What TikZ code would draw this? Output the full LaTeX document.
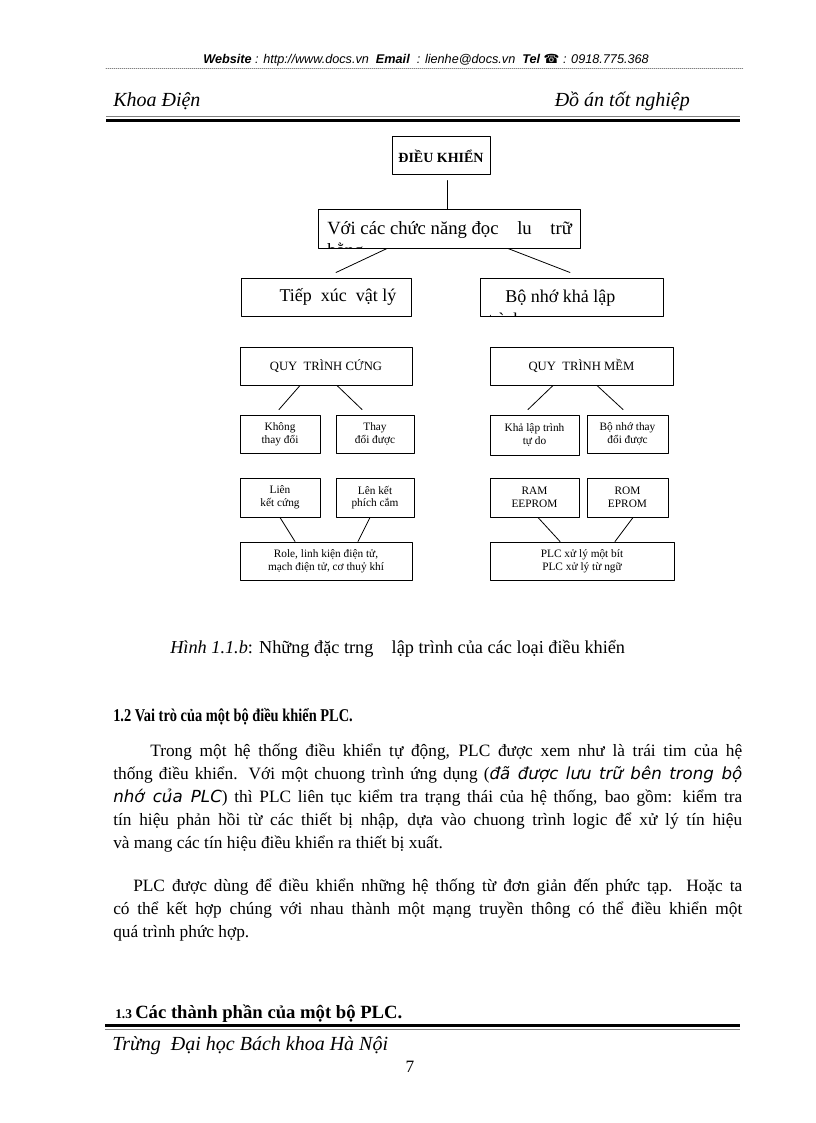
\documentclass[tikz,border=0pt]{standalone}
\usepackage{fontspec}
\setmainfont{Liberation Serif}
\setsansfont{Liberation Sans}
\newfontfamily\symfont{DejaVu Sans}
\newfontfamily\obfont{DejaVu Sans}
\usetikzlibrary{calc}
\newcommand{\jline}[1]{\makebox[471.75pt][s]{#1}}

\begin{document}
\begin{tikzpicture}[x=0.75pt, y=-0.75pt, line cap=round, line join=round,
    box/.style={draw, line width=0.75pt, inner sep=1pt, align=center, font=\fontsize{8.5}{9.5}\selectfont, minimum height=28.5pt},
    link/.style={line width=0.6pt},
    rule/.style={line width=2.25pt, line cap=butt},
    thinrule/.style={gray, line width=0.5pt, line cap=butt},
    para/.style={anchor=north west, inner sep=0pt, align=left, font=\fontsize{13}{17.25}\selectfont}]
  \fill[white] (0,0) rectangle (816,1123);

  % page header
  \node[font=\sffamily\itshape\fontsize{9.5}{11}\selectfont] (web) at (426,60) {\textbf{Website} : http://www.docs.vn\ \ \textbf{Email}\ \ : lienhe@docs.vn\ \ \textbf{Tel} {\symfont\upshape ☎} : 0918.775.368};
  \draw[gray, densely dotted, line width=0.5pt] (106,68) -- (743,68);
  \node[anchor=base west, inner sep=0pt, font=\itshape\fontsize{15}{18}\selectfont] (khoa) at (113,107) {Khoa Điện};
  \node[anchor=base east, inner sep=0pt, font=\itshape\fontsize{15}{18}\selectfont] (doan) at (690,107) {Đồ án tốt nghiệp};
  \draw[thinrule] (106,116) -- (740,116);
  \draw[rule] (106,120.5) -- (740,120.5);

  % diagram
  \node[box, minimum width=73.5pt, font=\bfseries\fontsize{10.5}{12}\selectfont] (dk) at (441,156) {ĐIỀU KHIỂN};
  \node[box, minimum width=196.5pt] (cn) at (449,229) {};
  \begin{scope}
    \clip (cn.south west) rectangle (cn.north east);
    \node[anchor=base west, inner sep=0pt, font=\fontsize{14}{16}\selectfont] (cn1) at (327,234) {Với các chức năng đọc\quad lu\quad trữ};
    \node[anchor=base west, inner sep=0pt, font=\fontsize{14}{16}\selectfont] (cn2) at (327,256) {bằng};
  \end{scope}
  \node[box, minimum width=127.5pt, font=\fontsize{13.5}{16}\selectfont] (tx) at (326,297) {\hspace*{18pt}Tiếp\ \ xúc\ \ vật lý};
  \node[box, minimum width=137.25pt] (bn) at (571.5,297) {};
  \begin{scope}
    \clip (bn.south west) rectangle (bn.north east);
    \node[anchor=base west, inner sep=0pt, font=\fontsize{13.5}{16}\selectfont] (bn1) at (505,302) {Bộ nhớ khả lập};
    \node[anchor=base west, inner sep=0pt, font=\fontsize{13.5}{16}\selectfont] (bn2) at (488,325) {trình};
  \end{scope}
  \node[box, minimum width=129pt, font=\fontsize{9.5}{11}\selectfont] (qc) at (326,366) {QUY\ \ TRÌNH CỨNG};
  \node[box, minimum width=137.25pt, font=\fontsize{9.5}{11}\selectfont] (qm) at (581.5,366) {QUY\ \ TRÌNH MỀM};
  \node[box, minimum width=60pt] (kt) at (280,434) {Không\\thay đổi};
  \node[box, minimum width=58.5pt] (td) at (375,434) {Thay\\đổi được};
  \node[box, minimum width=66.75pt, minimum height=30pt] (kl) at (534.5,435) {Khả lập trình\\tự do};
  \node[box, minimum width=60.75pt] (bt) at (627.5,434) {Bộ nhớ thay\\đổi được};
  \node[box, minimum width=60pt, minimum height=29.25pt] (lc) at (280,497.5) {Liên\\kết cứng};
  \node[box, minimum width=58.5pt, minimum height=29.25pt] (lp) at (375,497.5) {Lên kết\\phích cắm};
  \node[box, minimum width=66.75pt, minimum height=29.25pt] (ram) at (534.5,497.5) {RAM\\EEPROM};
  \node[box, minimum width=60.75pt, minimum height=29.25pt] (rom) at (627.5,497.5) {ROM\\EPROM};
  \node[box, minimum width=129pt] (rl) at (326,561) {Role, linh kiện điện tử,\\mạch điện tử, cơ thuỷ khí};
  \node[box, minimum width=138pt] (plc) at (582,561) {PLC xử lý một bít\\PLC xử lý từ ngữ};

  \draw[link] ($(dk.south)+(6,5)$) -- ($(cn.north)+(-2,0)$);
  \foreach \a/\b/\d in {tx/qc/1, bn/qm/5.5, kt/lc/-1, td/lp/-1, kl/ram/3.5, bt/rom/-2.5}
    \draw[link] ($(\a.south)+(\d,0)$) -- ($(\a.south)+(\d,0)$ |- \b.north);
  \foreach \a/\u/\b/\v/\w in {cn/-62/tx/10/-5, cn/59/bn/-1.5/-5, qc/-26/kt/-1/-5, qc/11/td/-13/-5,
      qm/-28.5/kl/-6.5/-5, qm/15.5/bt/-4.5/-5, lc/0/rl/-31/0, lp/-5/rl/32/0, ram/3.5/plc/-22/0, rom/5.5/plc/33/0}
    \draw[link] ($(\a.south)+(\u,0)$) -- ($(\b.north)+(\v,\w)$);

  % caption and text
  \node[anchor=base west, inner sep=0pt, font=\fontsize{13.7}{16}\selectfont] (cap) at (170,653) {\textit{Hình 1.1.b}: Những đặc trng\quad lập trình của các loại điều khiển};
  \node[anchor=base west, inner sep=0pt, font=\bfseries\fontsize{13.5}{16}\selectfont] (h12) at (113,721) {\scalebox{0.8}[1]{1.2 Vai trò của một bộ điều khiển PLC.}};
  \node[para] (p1) at (113,744) {\jline{\hspace*{27.75pt}Trong một hệ thống điều khiển tự động, PLC được xem như là trái tim của hệ}\\
    \jline{thống điều khiển. Với một chuong trình ứng dụng ({\obfont\itshape\fontsize{12.5}{17.25}\selectfont đã được lưu trữ bên trong bộ}}\\
    \jline{{\obfont\itshape\fontsize{12.5}{17.25}\selectfont nhớ của PLC}) thì PLC liên tục kiểm tra trạng thái của hệ thống, bao gồm: kiểm tra}\\
    \jline{tín hiệu phản hồi từ các thiết bị nhập, dựa vào chuong trình logic để xử lý tín hiệu}\\
    và mang các tín hiệu điều khiển ra thiết bị xuất.};
  \node[para] (p2) at (113,879) {\jline{\hspace*{15pt}PLC được dùng để điều khiển những hệ thống từ đơn giản đến phức tạp. Hoặc ta}\\
    \jline{có thể kết hợp chúng với nhau thành một mạng truyền thông có thể điều khiển một}\\
    quá trình phức hợp.};

  % page footer
  \node[anchor=base west, inner sep=0pt, font=\bfseries] (h13) at (115,1018) {{\fontsize{10}{12}\selectfont 1.3} {\fontsize{14}{16}\selectfont\underline{Các thành phần của một bộ PLC.}}};
  \draw[rule] (105,1025.5) -- (740,1025.5);
  \draw[thinrule] (105,1029.5) -- (740,1029.5);
  \node[anchor=base west, inner sep=0pt, font=\itshape\fontsize{15}{18}\selectfont] (truong) at (112,1050) {Trừng\ \ Đại học Bách khoa Hà Nội};
  \node[anchor=base, inner sep=0pt, font=\fontsize{13}{16}\selectfont] (pg) at (410,1072) {7};
\end{tikzpicture}
\end{document}
